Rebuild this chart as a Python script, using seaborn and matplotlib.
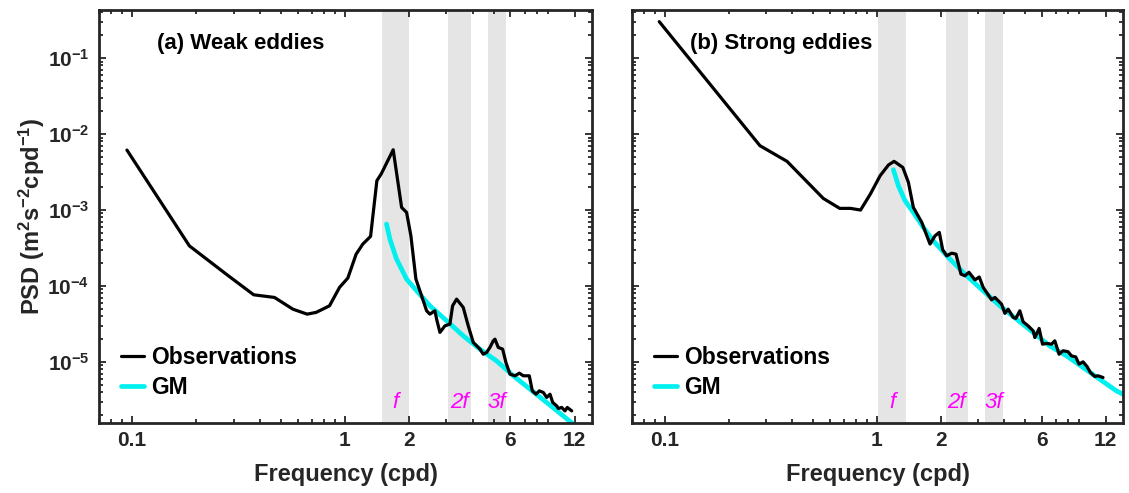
import numpy as np
import pandas as pd
import matplotlib
matplotlib.use("Agg")
import matplotlib.pyplot as plt
import seaborn as sns
from matplotlib.ticker import FixedLocator, FixedFormatter, LogLocator, NullFormatter

# ---------------- data ----------------
# (a) weak eddies: observed spectrum
weak_freq = [0.0947, 0.186, 0.277, 0.373, 0.467, 0.570, 0.665, 0.733, 0.847, 0.944,
             1.033, 1.130, 1.215, 1.321, 1.414, 1.481, 1.687, 1.848, 1.950, 2.043,
             2.157, 2.294, 2.422, 2.509, 2.649, 2.698, 2.797, 2.952, 3.116, 3.208,
             3.350, 3.599, 3.800, 4.012, 4.313, 4.469, 4.637, 4.805, 4.980, 5.073,
             5.256, 5.512, 5.713, 5.966, 6.299, 6.600, 6.892, 7.355, 7.597, 7.907,
             8.197, 8.560, 8.881, 9.201, 9.473, 9.892, 10.07, 10.44, 10.82, 11.09, 11.64]
weak_psd = [6.15e-3, 3.37e-4, 1.43e-4, 7.64e-5, 7.05e-5, 4.94e-5, 4.25e-5, 4.48e-5, 5.47e-5, 9.55e-5,
            1.27e-4, 2.62e-4, 3.56e-4, 4.49e-4, 2.43e-3, 2.97e-3, 6.21e-3, 1.08e-3, 9.29e-4, 4.57e-4,
            1.23e-4, 7.41e-5, 4.70e-5, 4.25e-5, 4.70e-5, 3.66e-5, 2.44e-5, 2.98e-5, 3.14e-5, 5.47e-5,
            6.70e-5, 5.21e-5, 2.98e-5, 1.80e-5, 1.47e-5, 1.26e-5, 1.33e-5, 1.55e-5, 1.89e-5, 1.99e-5,
            1.55e-5, 1.47e-5, 9.80e-6, 6.89e-6, 6.55e-6, 7.10e-6, 6.55e-6, 6.55e-6, 4.15e-6, 3.75e-6,
            4.15e-6, 3.95e-6, 3.40e-6, 3.75e-6, 2.92e-6, 2.63e-6, 2.43e-6, 2.51e-6, 2.26e-6, 2.51e-6, 2.26e-6]
# (a) GM model spectrum
weak_gm_freq = [1.570, 1.628, 1.750, 1.950, 2.21, 2.51, 3.01, 3.60, 4.31, 5.16,
                6.19, 7.41, 8.87, 10.6, 11.34, 11.9]
weak_gm_psd = [6.52e-4, 4.14e-4, 2.25e-4, 1.23e-4, 8.20e-5, 5.47e-5, 3.47e-5, 2.20e-5, 1.47e-5, 1.03e-5,
               6.55e-6, 4.37e-6, 2.92e-6, 1.95e-6, 1.67e-6, 1.50e-6]

# (b) strong eddies: observed spectrum
strong_freq = [0.0941, 0.281, 0.377, 0.559, 0.668, 0.751, 0.838, 0.932, 1.036, 1.134,
               1.206, 1.326, 1.409, 1.487, 1.629, 1.782, 1.882, 1.971, 2.045, 2.136,
               2.255, 2.363, 2.494, 2.604, 2.720, 2.903, 3.042, 3.176, 3.296, 3.478,
               3.606, 3.877, 4.018, 4.165, 4.397, 4.527, 4.727, 4.899, 5.172, 5.463,
               5.565, 5.830, 6.049, 6.317, 6.669, 6.911, 7.241, 7.560, 7.981, 8.281,
               8.677, 8.993, 9.391, 9.806, 10.17, 10.66, 11.05, 11.67]
strong_psd = [0.302, 7.02e-3, 4.37e-3, 1.42e-3, 1.05e-3, 1.05e-3, 9.98e-4, 1.62e-3, 2.82e-3, 3.91e-3,
              4.37e-3, 3.64e-3, 2.31e-3, 1.08e-3, 6.87e-4, 3.56e-4, 4.57e-4, 5.07e-4, 2.99e-4, 2.49e-4,
              2.70e-4, 2.62e-4, 1.43e-4, 1.36e-4, 1.51e-4, 1.20e-4, 1.31e-4, 9.55e-5, 8.20e-5, 6.56e-5,
              7.05e-5, 5.75e-5, 4.35e-5, 4.94e-5, 3.85e-5, 3.73e-5, 4.70e-5, 3.37e-5, 2.98e-5, 2.56e-5,
              2.09e-5, 2.75e-5, 1.71e-5, 1.75e-5, 1.71e-5, 1.89e-5, 1.26e-5, 1.40e-5, 1.36e-5, 1.20e-5,
              1.16e-5, 9.33e-6, 1.00e-5, 8.69e-6, 7.24e-6, 6.43e-6, 6.55e-6, 6.22e-6]
# (b) GM model spectrum
strong_gm_freq = [1.197, 1.264, 1.359, 1.487, 1.657, 1.847, 2.214, 2.653, 3.176, 3.806,
                  4.561, 5.463, 6.546, 7.846, 9.391, 11.25, 13.49, 15.03]
strong_gm_psd = [3.39e-3, 2.08e-3, 1.32e-3, 9.29e-4, 5.90e-4, 3.93e-4, 2.25e-4, 1.36e-4, 8.61e-5, 5.47e-5,
                 3.65e-5, 2.44e-5, 1.62e-5, 1.20e-5, 8.43e-6, 5.91e-6, 4.15e-6, 3.56e-6]

# shaded inertial / harmonic bands (cpd)
weak_bands = [(1.488, 2.00), (3.06, 3.90), (4.69, 5.71)]
strong_bands = [(1.017, 1.374), (2.12, 2.682), (3.236, 3.92)]
band_labels = ["f", "2f", "3f"]

panel_titles = ["(a) Weak eddies", "(b) Strong eddies"]
xtick_values = [0.1, 1, 2, 6, 12]
xtick_labels = ["0.1", "1", "2", "6", "12"]

# ---------------- style ----------------
sns.set_theme(style="ticks")
plt.rcParams["font.family"] = ["Liberation Sans", "DejaVu Sans"]
plt.rcParams["font.weight"] = "bold"
plt.rcParams["axes.labelweight"] = "bold"
plt.rcParams["mathtext.default"] = "regular"

axis_color = "#262626"
band_color = "#e5e5e5"
obs_color = "black"
gm_color = "#00f0f0"

fig = plt.figure(figsize=(11.29, 4.93), dpi=100)
ax_a = fig.add_axes([0.0877, 0.1426, 0.4367, 0.8371])
ax_b = fig.add_axes([0.5598, 0.1426, 0.4349, 0.8371])

panels = [
    (ax_a, weak_freq, weak_psd, weak_gm_freq, weak_gm_psd, weak_bands),
    (ax_b, strong_freq, strong_psd, strong_gm_freq, strong_gm_psd, strong_bands),
]

for i, (ax, fq, psd, gfq, gpsd, bands) in enumerate(panels):
    obs = pd.DataFrame({"freq": fq, "psd": psd})
    gm = pd.DataFrame({"freq": gfq, "psd": gpsd})

    for lo, hi in bands:
        ax.axvspan(lo, hi, color=band_color, lw=0, zorder=0)

    sns.lineplot(data=obs, x="freq", y="psd", ax=ax, color=obs_color, lw=2.3,
                 sort=False, estimator=None, label="Observations", zorder=4)
    sns.lineplot(data=gm, x="freq", y="psd", ax=ax, color=gm_color, lw=3.4,
                 sort=False, estimator=None, label="GM", zorder=3)

    ax.set_xscale("log")
    ax.set_yscale("log")
    ax.set_xlim(0.07, 14.5)
    ax.set_ylim(1.58e-6, 0.43)

    ax.xaxis.set_major_locator(FixedLocator(xtick_values))
    ax.xaxis.set_major_formatter(FixedFormatter(xtick_labels))
    ax.xaxis.set_minor_locator(LogLocator(base=10, subs=np.arange(2, 10) * 1.0, numticks=20))
    ax.xaxis.set_minor_formatter(NullFormatter())
    ax.yaxis.set_major_locator(LogLocator(base=10, numticks=20))
    ax.yaxis.set_minor_locator(LogLocator(base=10, subs=np.arange(2, 10) * 1.0, numticks=20))
    ax.yaxis.set_minor_formatter(NullFormatter())

    ax.tick_params(which="both", direction="in", top=True, right=True,
                   color=axis_color, width=1.3, labelcolor=axis_color)
    ax.tick_params(which="major", length=5, labelsize=15)
    ax.tick_params(axis="x", which="major", pad=6)
    ax.tick_params(axis="y", which="major", pad=7)
    ax.tick_params(which="minor", length=2.8)
    for lab in ax.get_xticklabels() + ax.get_yticklabels():
        lab.set_fontweight("bold")
    for sp in ax.spines.values():
        sp.set_visible(True)
        sp.set_linewidth(2.0)
        sp.set_color(axis_color)
        sp.set_zorder(6)

    ax.set_xlabel("Frequency (cpd)", fontsize=17, fontweight="bold", color=axis_color, labelpad=9)

    ax.text(0.118, 0.918, panel_titles[i], transform=ax.transAxes, fontsize=16,
            fontweight="bold", color="black", ha="left", va="center")

    for (lo, hi), lab in zip(bands, band_labels):
        ax.text(np.sqrt(lo * hi), 0.05, lab, transform=ax.get_xaxis_transform(),
                color="#ff00ff", fontsize=16, style="italic", fontweight="normal",
                ha="center", va="center", zorder=5)

    leg = ax.legend(loc="upper left", bbox_to_anchor=(0.045, 0.185), frameon=False,
                    fontsize=16.5, handlelength=1.0, handletextpad=0.3, labelspacing=0.3,
                    borderpad=0, borderaxespad=0)
    for t in leg.get_texts():
        t.set_fontweight("bold")
        t.set_color("black")

ax_a.set_ylabel("PSD (m$^2$s$^{-2}$cpd$^{-1}$)", fontsize=17, fontweight="bold",
                color=axis_color, labelpad=0)
ax_b.set_ylabel("")
ax_b.tick_params(axis="y", which="both", labelleft=False)

fig.savefig("out.png", dpi=100)
